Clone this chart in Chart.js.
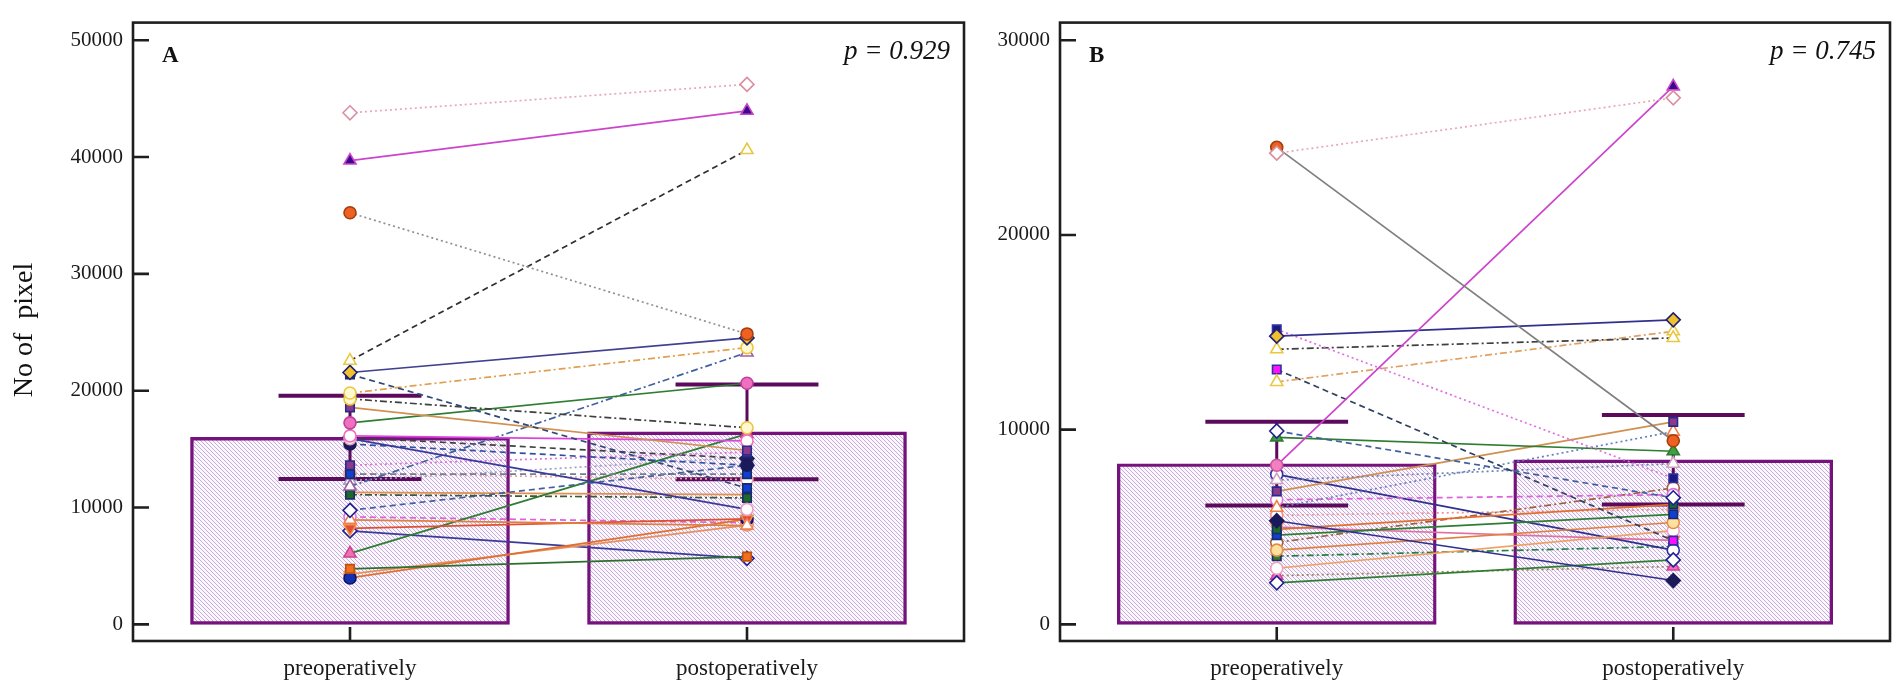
<!DOCTYPE html>
<html><head><meta charset="utf-8">
<script src="https://cdn.jsdelivr.net/npm/chart.js@4.4.1/dist/chart.umd.min.js"></script>
<style>
html,body{margin:0;padding:0;background:#fff;}
#wrap{position:relative;width:1902px;height:692px;overflow:hidden;background:#fff;}
canvas{position:absolute;left:0;top:0;}
</style></head><body>
<div id="wrap"><canvas id="cA" width="1902" height="692"></canvas><canvas id="cB" width="1902" height="692"></canvas></div>
<script>
// ---------- DATA ----------
const categories = ['preoperatively', 'postoperatively'];
const yTicksA = [0, 10000, 20000, 30000, 40000, 50000];
const yTicksB = [0, 10000, 20000, 30000];
const meanA = [16000, 16470];
const errA = [3560, 4060];
const meanB = [8250, 8450];
const errB = [2150, 2300];
const panelLabels = ['A', 'B'];
const pValues = ['p = 0.929', 'p = 0.745'];
const yTitle = 'No of  pixel';

const preA  = [43790, 39700, 35230, 22570, 21560, 21400, 19800, 19300, 18570, 17250, 16130, 15900, 15440, 13620, 12860, 11800, 11100, 9760, 8950, 8220, 6070, 4750, 3970, 4300, 8000, 9200, 11300, 12900, 16000, 12300];
const postA = [46220, 43960, 24860, 40600, 24520, 11660, 23690, 16830, 14880, 20640, 15700, 9840, 13620, 14740, 12860, 23270, 10820, 13620, 8450, 9030, 16300, 5800, 9000, 8500, 5650, 8700, 11100, 12400, 14200, 14300];

const preB  = [24200, 24500, 8170, 14800, 15150, 14130, 12450, 13090, 9930, 9600, 7410, 6830, 5990, 5320, 4880, 4580, 3810, 2880, 2130, 6400, 7700, 5000, 2500, 4200, 5600, 3500];
const postB = [27040, 9430, 27630, 15640, 7500, 14710, 15050, 4300, 6500, 8890, 8250, 10400, 9900, 2250, 6160, 5650, 5230, 4810, 3310, 6660, 3810, 4310, 2970, 7000, 5900, 4000];

// ---------- STYLES (line colour, dash, marker, fill, stroke) ----------
const styleA = [
  ['#e8a8b8','dot','rectRot','#ffffff','#d890a0'],
  ['#cc44cc','solid','triangle','#3a0a8c','#cc44cc'],
  ['#909090','dot','circle','#f06020','#a04010'],
  ['#303030','dash','triangle','#ffffff','#e8c840'],
  ['#404090','solid','rectRot','#f0c030','#202070'],
  ['#304878','dash','rect','#1040d0','#1a2a6a'],
  ['#e0a050','dashdot','circle','#fff8d0','#e8c840'],
  ['#404040','dashdot','circle','#fff8d0','#e8c840'],
  ['#d09050','solid','rect','#8a3a8a','#2a2a8a'],
  ['#2e7d32','solid','circle','#f070c0','#c040a0'],
  ['#dd44dd','solid','circle','#ffffff','#f070c0'],
  ['#3a3a9a','solid','circle','#ffffff','#e8a0c0'],
  ['#3050a0','dash','circle','#1a1a5a','#1a1a5a'],
  ['#e070e0','dot','rect','#8a3a8a','#2a2a8a'],
  ['#708090','dash','rect','#1040d0','#1a2a6a'],
  ['#4060a0','dashdot','triangle','#ffffff','#a060a0'],
  ['#3a5a3a','dashdot','rect','#1a6a2a','#1a2a6a'],
  ['#4060a0','dash','rectRot','#ffffff','#202090'],
  ['#e08040','solid','triangle','#ffffff','#f08050'],
  ['#e05030','solid','triangleDown','#e05030','#f09050'],
  ['#2e7d32','solid','triangle','#f070b0','#d04090'],
  ['#2e6e2e','solid','rect','#f07020','#c05010'],
  ['#e07030','solid','circle','#1030b0','#101060'],
  ['#e89060','solid','circle','#ffffff','#e89060'],
  ['#3a3a9a','solid','rectRot','#ffffff','#202090'],
  ['#e060e0','dash','circle','#ffffff','#e070e0'],
  ['#e09050','solid','rect','#f0a070','#e08040'],
  ['#f0a0a0','dot','circle','#ffffff','#f0a0a0'],
  ['#404040','dash','rectRot','#202060','#202060'],
  ['#a0a0c0','dot','triangle','#ffffff','#a0a0c0']
];
const styleB = [
  ['#e8a8b8','dot','rectRot','#ffffff','#d890a0'],
  ['#808080','solid','circle','#f06020','#a04010'],
  ['#cc44cc','solid','triangle','#3a0a8c','#cc44cc'],
  ['#303090','solid','rectRot','#f0c030','#202070'],
  ['#e070e0','dot','rect','#1a1a80','#3030a0'],
  ['#404040','dashdot','triangle','#ffffff','#e8c840'],
  ['#e0a060','dashdot','triangle','#ffffff','#e8c840'],
  ['#304060','dash','rect','#ff10ff','#3030a0'],
  ['#4060a0','dash','rectRot','#ffffff','#202090'],
  ['#2e7d32','solid','triangle','#40a040','#2e7d32'],
  ['#7080b0','dot','triangle','#ffffff','#d0a0c0'],
  ['#d09050','solid','rect','#8a3a8a','#2a2a8a'],
  ['#6080c0','dot','triangle','#ffffff','#f08040'],
  ['#303090','solid','rectRot','#1a1a5a','#1a1a5a'],
  ['#e07030','solid','rect','#1a6a2a','#1a2a6a'],
  ['#2e7d32','solid','rect','#1040d0','#1a2a6a'],
  ['#e08040','solid','circle','#ffe0a0','#e09040'],
  ['#f0a060','solid','circle','#ffffff','#f0a0c0'],
  ['#2e7d32','solid','rectRot','#ffffff','#202090'],
  ['#e060e0','dash','circle','#ffffff','#e070e0'],
  ['#303090','solid','circle','#ffffff','#3030a0'],
  ['#e070a0','solid','triangleDown','#e05030','#f09050'],
  ['#a08060','dot','triangle','#f070c0','#d040a0'],
  ['#a06040','dashdot','circle','#ffffff','#a06040'],
  ['#f09090','dot','circle','#ffffff','#f09090'],
  ['#208040','dashdot','rect','#2e7d32','#1a2a6a']
];
// override: pre marker of panel B subject 3 shows as pink circle
const preMarkerOverrideB = {2: ['circle', '#f080c0', '#d050a0']};

const dashes = {solid: [], dot: [2, 3], dash: [6, 4], dashdot: [7, 3, 2, 3]};
const FONT = '"Liberation Serif", "Times New Roman", serif';

function hatchPattern() {
  const n = 4;
  const c = document.createElement('canvas');
  c.width = n; c.height = n;
  const g = c.getContext('2d');
  g.fillStyle = '#fdf6fd'; g.fillRect(0, 0, n, n);
  g.strokeStyle = '#b7a8d6'; g.lineWidth = 0.9;
  g.beginPath();
  g.moveTo(-1, -1); g.lineTo(n + 1, n + 1);
  g.moveTo(-1, n - 1); g.lineTo(1, n + 1);
  g.moveTo(n - 1, -1); g.lineTo(n + 1, 1);
  g.stroke();
  return g.createPattern(c, 'repeat');
}

function markerProps(m) {
  if (m === 'triangleDown') return {style: 'triangle', rot: 180, r: 7};
  if (m === 'triangle') return {style: 'triangle', rot: 0, r: 7};
  if (m === 'rectRot') return {style: 'rectRot', rot: 0, r: 7};
  if (m === 'rect') return {style: 'rect', rot: 0, r: 6};
  return {style: 'circle', rot: 0, r: 6};
}

function buildDatasets(pre, post, styles, mean, err, override) {
  const ds = [];
  ds.push({
    type: 'bar', order: 100,
    data: [{x: 0, y: mean[0]}, {x: 1, y: mean[1]}],
    backgroundColor: hatchPattern(), borderColor: '#76127c', borderWidth: 3.4,
    borderSkipped: false, barThickness: 319
  });
  const capW = 0.18;
  for (let i = 0; i < 2; i++) {
    const hi = mean[i] + err[i], lo = mean[i] - err[i];
    ds.push({type: 'line', order: 50, data: [{x: i, y: lo}, {x: i, y: hi}], borderColor: '#5c0a5c', borderWidth: 3, pointRadius: 0});
    ds.push({type: 'line', order: 50, data: [{x: i - capW, y: hi}, {x: i + capW, y: hi}], borderColor: '#5c0a5c', borderWidth: 4, pointRadius: 0});
    ds.push({type: 'line', order: 50, data: [{x: i - capW, y: lo}, {x: i + capW, y: lo}], borderColor: '#5c0a5c', borderWidth: 4, pointRadius: 0});
  }
  for (let i = 0; i < pre.length; i++) {
    const s = styles[i];
    const mp = markerProps(s[2]);
    let preStyle = mp.style, preRot = mp.rot, preR = mp.r, preFill = s[3], preStroke = s[4];
    if (override && override[i]) {
      const o = override[i]; const m2 = markerProps(o[0]);
      preStyle = m2.style; preRot = m2.rot; preR = m2.r; preFill = o[1]; preStroke = o[2];
    }
    ds.push({
      type: 'line', order: 10,
      data: [{x: 0, y: pre[i]}, {x: 1, y: post[i]}],
      borderColor: s[0], borderWidth: 1.7, borderDash: dashes[s[1]],
      pointStyle: [preStyle, mp.style], pointRotation: [preRot, mp.rot],
      pointRadius: [preR, mp.r], pointBackgroundColor: [preFill, s[3]],
      pointBorderColor: [preStroke, s[4]], pointBorderWidth: 1.6
    });
  }
  return ds;
}

const framePlugin = {
  id: 'frame',
  afterDraw(chart, args, opts) {
    const {ctx, chartArea: a, scales} = chart;
    ctx.save();
    ctx.strokeStyle = '#1e1e1e'; ctx.lineWidth = 2.6;
    ctx.strokeRect(a.left, a.top, a.right - a.left, a.bottom - a.top);
    ctx.beginPath();
    opts.yTicks.forEach(v => {
      const y = scales.y.getPixelForValue(v);
      ctx.moveTo(a.left, y); ctx.lineTo(a.left + 16, y);
    });
    [0, 1].forEach(v => {
      const x = scales.x.getPixelForValue(v);
      ctx.moveTo(x, a.bottom); ctx.lineTo(x, a.bottom - 14);
    });
    ctx.stroke();
    ctx.fillStyle = '#111';
    ctx.font = 'bold 23px ' + FONT;
    ctx.textBaseline = 'middle'; ctx.textAlign = 'left';
    ctx.fillText(opts.letter, a.left + 29, a.top + 33);
    ctx.font = 'italic 27px ' + FONT;
    ctx.textAlign = 'right'; ctx.textBaseline = 'alphabetic';
    ctx.fillText(opts.pText, a.right - 14, a.top + 36);
    if (opts.yTitle) {
      ctx.translate(25, 330);
      ctx.rotate(-Math.PI / 2);
      ctx.font = '28px ' + FONT;
      ctx.textAlign = 'center'; ctx.textBaseline = 'middle';
      ctx.fillText(opts.yTitle, 0, 0);
    }
    ctx.restore();
  }
};

function makeChart(id, pre, post, styles, mean, err, override, yMin, yMax, yTicks, padL, yW, padR, letter, pText, title) {
  return new Chart(document.getElementById(id), {
    type: 'line',
    data: {datasets: buildDatasets(pre, post, styles, mean, err, override)},
    options: {
      responsive: false, animation: false, devicePixelRatio: 1,
      layout: {padding: {left: padL, right: padR, top: 10, bottom: 0}},
      plugins: {legend: {display: false}, tooltip: {enabled: false}, frame: {yTicks, letter, pText, yTitle: title}},
      scales: {
        x: {
          type: 'linear', min: -0.5466, max: 1.5466, offset: false,
          grid: {display: false, drawTicks: false}, border: {display: false},
          afterBuildTicks: s => { s.ticks = [{value: 0}, {value: 1}]; },
          afterFit: s => { s.height = 51; },
          ticks: {callback: v => categories[v], font: {family: FONT, size: 23}, color: '#1a1a1a', padding: 14, maxRotation: 0, autoSkip: false}
        },
        y: {
          type: 'linear', min: yMin, max: yMax,
          grid: {display: false, drawTicks: false}, border: {display: false},
          afterBuildTicks: s => { s.ticks = yTicks.map(v => ({value: v})); },
          afterFit: s => { s.width = yW; },
          ticks: {callback: v => String(v), font: {family: FONT, size: 21}, color: '#1a1a1a', padding: 10}
        }
      }
    },
    plugins: [framePlugin]
  });
}

makeChart('cA', preA, postA, styleA, meanA, errA, null, -1426, 51510, yTicksA, 0, 133, 1902 - 964, panelLabels[0], pValues[0], yTitle);
makeChart('cB', preB, postB, styleB, meanB, errB, preMarkerOverrideB, -856, 30906, yTicksB, 980, 80, 12, panelLabels[1], pValues[1], null);
</script>
</body></html>
